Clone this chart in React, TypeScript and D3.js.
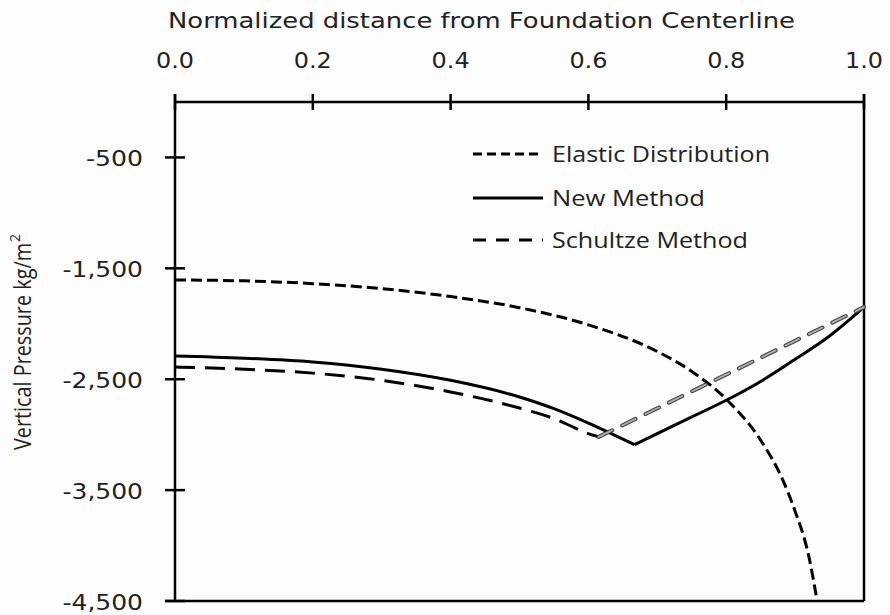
import React from "react";
import * as d3 from "d3";

const xTicks = [0, 0.2, 0.4, 0.6, 0.8, 1.0];
const yTicks = [-500, -1500, -2500, -3500, -4500];

const xElastic = [0, 0.1, 0.2, 0.3, 0.4, 0.5, 0.6, 0.7, 0.75, 0.8, 0.85, 0.88, 0.9, 0.92, 0.932];
const elastic = [-1605, -1613, -1638, -1683, -1755, -1855, -2010, -2250, -2430, -2680, -3050, -3380, -3690, -4100, -4500];

const xNew = [0, 0.1, 0.2, 0.3, 0.4, 0.5, 0.55, 0.6, 0.667, 0.75, 0.8, 0.85, 0.9, 0.95, 1.0];
const newMethod = [-2290, -2310, -2345, -2410, -2510, -2660, -2765, -2895, -3090, -2840, -2690, -2520, -2320, -2110, -1850];

const xSchultze = [0, 0.1, 0.2, 0.3, 0.4, 0.5, 0.55, 0.6, 0.615];
const schultze = [-2390, -2410, -2445, -2510, -2615, -2760, -2855, -2990, -3020];
const xSchultzeLinear = [0.615, 1.0];
const schultzeLinear = [-3020, -1850];

const legendLabels = ["Elastic Distribution", "New Method", "Schultze Method"];

const W = 890, H = 615;
const L = 175, R = 864, T = 102, B = 601;

export default function App() {
  const x = d3.scaleLinear().domain([0, 1]).range([L, R]);
  const y = d3.scaleLinear().domain([-4500, 0]).range([B, T]);
  const smooth = d3.line<[number, number]>().x(d => x(d[0])).y(d => y(d[1])).curve(d3.curveMonotoneX);
  const straight = d3.line<[number, number]>().x(d => x(d[0])).y(d => y(d[1]));

  const el: [number, number][] = xElastic.map((v, i) => [v, elastic[i]]);
  const nm: [number, number][] = xNew.map((v, i) => [v, newMethod[i]]);
  const minIdx = d3.minIndex(newMethod);
  const nmLeft = nm.slice(0, minIdx + 1);
  const nmRight = nm.slice(minIdx);
  const sc: [number, number][] = xSchultze.map((v, i) => [v, schultze[i]]);
  const scL: [number, number][] = xSchultzeLinear.map((v, i) => [v, schultzeLinear[i]]);

  const tickFont = "'DejaVu Sans', Verdana, sans-serif";
  const legFont = "'Open Sans', 'Liberation Sans', sans-serif";
  const legY = [154, 198, 240];
  const legWidths = [218, 153, 196];
  const legX0 = 473, legX1 = 543;
  const dashes = ["9,5", "", "13,10"];
  const fmt = (v: number) => d3.format(",")(v).replace("\u2212", "-");
  const yLabW = (s: string) => s.length * 13.5;

  return (
    <svg width={W} height={H} style={{ position: "absolute", left: 0, top: 0, background: "#fdfdfd" }}>
      <rect x={0} y={0} width={W} height={H} fill="#fdfdfd" />
      {/* title */}
      <text x={168} y={28} fontFamily={tickFont} fontSize={22} fill="#222" textLength={627} lengthAdjust="spacingAndGlyphs">
        Normalized distance from Foundation Centerline
      </text>
      {/* x tick labels */}
      {xTicks.map(t => (
        <text key={t} x={x(t) - 19} y={68} fontFamily={tickFont} fontSize={22} fill="#222" textLength={38} lengthAdjust="spacingAndGlyphs">
          {t.toFixed(1)}
        </text>
      ))}
      {/* y tick labels */}
      {yTicks.map(t => {
        const s = fmt(t);
        const w = yLabW(s) + (s.includes(",") ? -0.5 : 3);
        return (
          <text key={t} x={143 - w} y={y(t) + 9} fontFamily={tickFont} fontSize={22} fill="#222" textLength={w} lengthAdjust="spacingAndGlyphs">
            {s}
          </text>
        );
      })}
      {/* y axis title */}
      <g transform="translate(31, 450) rotate(-90)">
        <text x={0} y={0} fontFamily={legFont} fontSize={23} fill="#222" textLength={207} lengthAdjust="spacingAndGlyphs">
          Vertical Pressure kg/m
        </text>
        <text x={208} y={-11} fontFamily={legFont} fontSize={14} fill="#222">2</text>
      </g>
      {/* axes */}
      <g stroke="#000" strokeWidth={2.5} fill="none">
        <line x1={L} x2={R} y1={T} y2={T} />
        <line x1={L} x2={L} y1={T - 8} y2={B} />
        <line x1={R} x2={R} y1={T - 8} y2={B} />
        <line x1={L - 10} x2={R} y1={B} y2={B} />
        {xTicks.map(t => (
          <line key={t} x1={x(t)} x2={x(t)} y1={T - 8} y2={T + 8} />
        ))}
        {yTicks.map(t => (
          <line key={t} x1={L - 10} x2={L + 10} y1={y(t)} y2={y(t)} />
        ))}
      </g>
      {/* series */}
      <g fill="none" strokeLinecap="butt">
        <path d={smooth(el) || ""} stroke="#000" strokeWidth={3} strokeDasharray="11,5" />
        <path d={smooth(nmLeft) || ""} stroke="#000" strokeWidth={3} />
        <path d={straight(nmRight.slice(0, 2)) || ""} stroke="#000" strokeWidth={3} />
        <path d={smooth(nmRight.slice(1)) || ""} stroke="#000" strokeWidth={3} />
        <path d={smooth(sc) || ""} stroke="#000" strokeWidth={3} strokeDasharray="20,10" />
        <path d={straight(scL) || ""} stroke="#444" strokeWidth={4} strokeDasharray="15,11" strokeLinecap="round" />
        <path d={straight(scL) || ""} stroke="#b0b0b0" strokeWidth={1.8} strokeDasharray="15,11" strokeLinecap="round" />
      </g>
      {/* legend */}
      {legendLabels.map((lab, i) => (
        <g key={lab}>
          <line x1={legX0} x2={legX1} y1={legY[i]} y2={legY[i]} stroke="#000" strokeWidth={3} strokeDasharray={dashes[i] || undefined} />
          <text x={552} y={legY[i] + 8} fontFamily={legFont} fontSize={22} fill="#222" textLength={legWidths[i]} lengthAdjust="spacingAndGlyphs">{lab}</text>
        </g>
      ))}
    </svg>
  );
}
